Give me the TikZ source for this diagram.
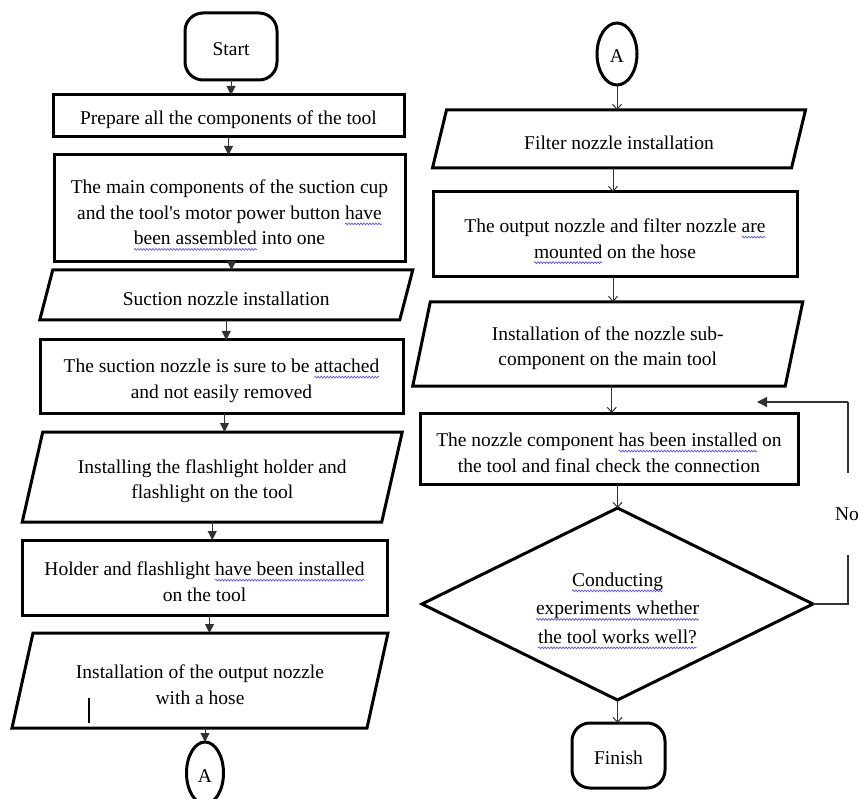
\documentclass[tikz,border=0pt]{standalone}
\usepackage{fontspec}
\setmainfont{Liberation Serif}
\usetikzlibrary{arrows.meta,calc,shapes.geometric,decorations.pathmorphing}
\definecolor{sqblue}{RGB}{90,90,210}
\definecolor{linegray}{RGB}{50,50,50}
\newsavebox\sqbox
\newcommand\sq[1]{\sbox\sqbox{#1}\rlap{\tikz[baseline=0pt,overlay]\draw[sqblue, line width=0.7pt, decorate, decoration={snake, amplitude=0.9pt, segment length=3pt}] (0pt,-4.5pt) -- (\the\wd\sqbox,-4.5pt);}\usebox\sqbox}
\newcommand\lowstrut{\rule{0pt}{22pt}}
\newcommand\parabox[7]{%
  \node[iotext, minimum width=#4pt, minimum height=#5pt] (#1) at (#2,#3) {#7};
  \draw[boxline] ([xshift=#6pt/2]#1.north west) -- ([xshift=#6pt/2]#1.north east)
    -- ([xshift=-#6pt/2]#1.south east) -- ([xshift=-#6pt/2]#1.south west) -- cycle;}
\begin{document}
\begin{tikzpicture}[x=1pt,y=-1pt,
  every node/.style={font=\fontsize{19.5}{25.5}\selectfont, text=black, inner sep=0pt, outer sep=0pt},
  lowtext/.style={execute at begin node={\rule{0pt}{22pt}}},
  lowtextsmall/.style={execute at begin node={\rule{0pt}{18pt}}},
  boxline/.style={draw=black, line width=3pt, line join=miter},
  proc/.style={rectangle, draw=black, line width=3pt, align=center, lowtext},
  iotext/.style={rectangle, align=center, lowtext},
  term/.style={rectangle, draw=black, line width=3pt, rounded corners=18pt, align=center, lowtextsmall},
  conn/.style={ellipse, draw=black, line width=3pt, lowtextsmall},
  decis/.style={rectangle, align=center, font=\fontsize{19.5}{28.5}\selectfont},
  arrL/.style={draw=linegray, line width=1pt, -{Triangle[length=9pt,width=9pt]}},
  arrR/.style={draw=linegray, line width=1pt, -{Straight Barb[length=5pt,width=9pt]}},
  fb/.style={draw=linegray, line width=1.2pt},
  fbarr/.style={draw=linegray, line width=1.2pt, -{Triangle[length=10pt,width=10pt]}}
]
\useasboundingbox (0,0) rectangle (859,799);
\fill[white] (0,0) rectangle (859,799);

% ---------------- left column ----------------
\node[term, minimum width=92pt, minimum height=67pt] (start) at (231,46.5) {Start};
\node[proc, minimum width=351pt, minimum height=42pt] (prep) at (228.5,116) {Prepare all the components of the tool};
\node[proc, minimum width=351pt, minimum height=107pt] (main) at (229.5,208.5)
  {\lowstrut The main components of the suction cup\\and the tool\textquotesingle s motor power button \sq{have}\\\sq{been assembled} into one};
\parabox{suction}{226.25}{295}{360}{50}{13}{Suction nozzle installation}
\node[proc, minimum width=363pt, minimum height=73pt] (attached) at (221.5,376.5)
  {\lowstrut The suction nozzle is sure to be \sq{attached}\\and not easily removed};
\parabox{flash}{212.25}{477}{359.5}{90}{20.5}{\lowstrut Installing the flashlight holder and\\flashlight on the tool}
\node[proc, minimum width=365pt, minimum height=75pt] (holder) at (204.5,577.5)
  {\lowstrut Holder and flashlight \sq{have been installed}\\on the tool};
\parabox{output}{200}{680.5}{355}{95}{21}{\lowstrut Installation of the output nozzle\\with a hose}
\node[conn, minimum width=37pt, minimum height=62pt] (A1) at (205,773) {A};
\draw[line width=1.2pt] (89,698) -- (89,723);

\draw[arrL] (start.south) -- (start.south |- prep.north);
\draw[arrL] (prep.south) -- (prep.south |- main.north);
\draw[arrL] ([xshift=2pt]main.south) -- ([xshift=2pt]main.south |- suction.north);
\draw[arrL] (suction.south) -- (suction.south |- attached.north);
\draw[arrL] ([xshift=3pt]attached.south) -- ([xshift=3pt]attached.south |- flash.north);
\draw[arrL] (flash.south) -- (flash.south |- holder.north);
\draw[arrL] ([xshift=5pt]holder.south) -- ([xshift=5pt]holder.south |- output.north);
\draw[arrL] (A1.north |- output.south) -- (A1.north);

% ---------------- right column ----------------
\node[conn, minimum width=40pt, minimum height=62pt] (A2) at (617,54) {A};
\parabox{filter}{619}{139}{359}{58}{14}{Filter nozzle installation}
\node[proc, minimum width=364pt, minimum height=85pt] (outbox) at (615,234.5)
  {\lowstrut The output nozzle and filter nozzle \sq{are}\\\sq{mounted} on the hose};
\parabox{sub}{607.75}{344}{372.5}{84}{17.5}{\lowstrut Installation of the nozzle sub-\\component on the main tool}
\node[proc, minimum width=378pt, minimum height=71pt] (final) at (609,448.5)
  {\lowstrut The nozzle component \sq{has been installed} on\\the tool and final check the connection};
\node[decis, minimum width=391pt, minimum height=192pt] (dec) at (617.5,604)
  {\lowstrut\sq{Conducting}\\\sq{experiments whether}\\\sq{the tool works well?}};
\draw[boxline] (dec.north) -- (dec.east) -- (dec.south) -- (dec.west) -- cycle;
\node[term, minimum width=93pt, minimum height=65pt] (finish) at (618.5,755.5) {Finish};

\draw[arrR] (A2.south) -- (A2.south |- filter.north);
\draw[arrR] ([xshift=-6pt]filter.south) -- ([xshift=-6pt]filter.south |- outbox.north);
\draw[arrR] ([xshift=-2pt]outbox.south) -- ([xshift=-2pt]outbox.south |- sub.north);
\draw[arrR] ([xshift=4pt]sub.south) -- ([xshift=4pt]sub.south |- final.north);
\draw[arrR] (dec.north |- final.south) -- (dec.north);
\draw[arrR] (dec.south) -- (dec.south |- finish.north);

% feedback loop
\coordinate (fbA) at (848,604);
\coordinate (fbB) at (848,402);
\coordinate (fbend) at (757,402);
\draw[fb] (dec.east) -- (fbA) -- (fbB);
\draw[fbarr] (fbB) -- (fbend);
\node[fill=white, minimum width=26pt, minimum height=82pt] (no) at (847,514) {No};
\end{tikzpicture}
\end{document}
